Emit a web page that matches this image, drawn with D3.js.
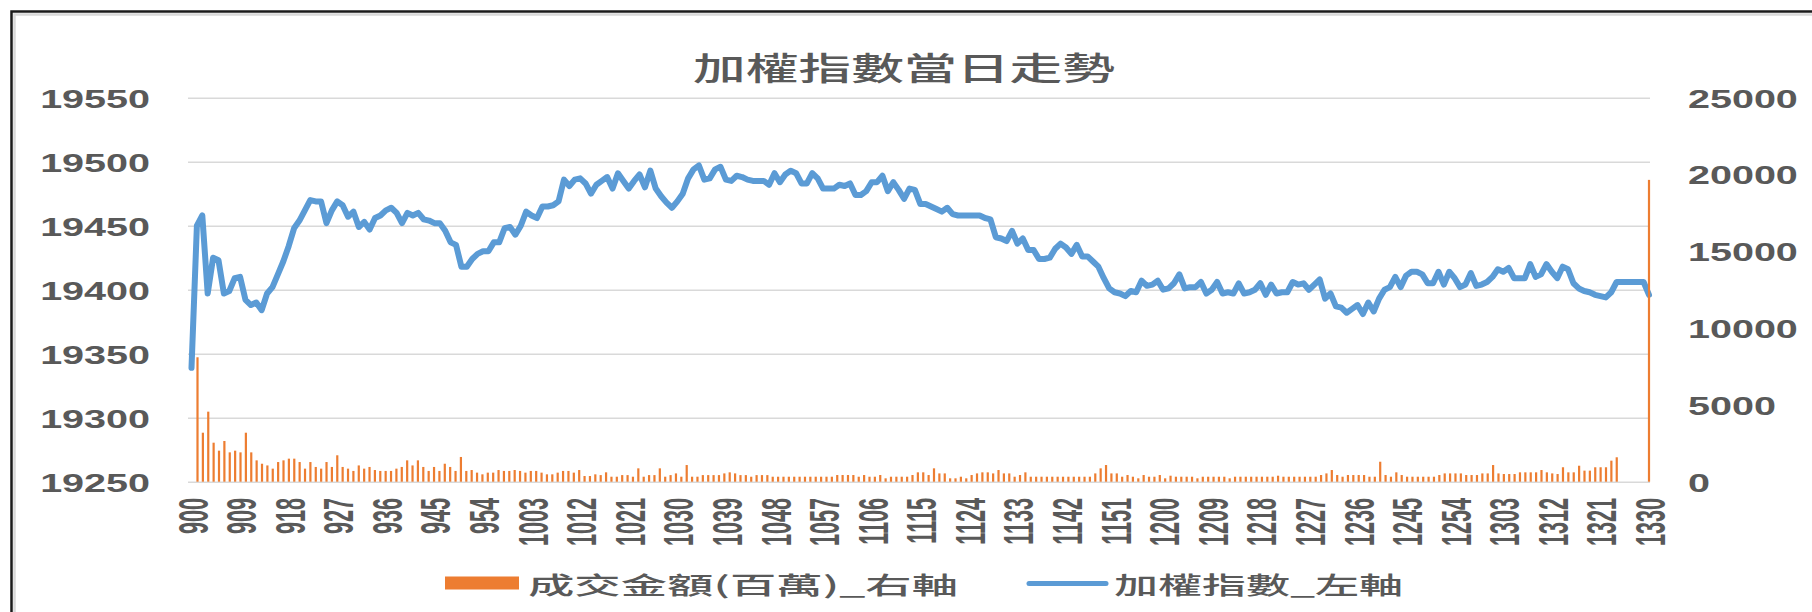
<!DOCTYPE html>
<html lang="zh-Hant">
<head>
<meta charset="UTF-8">
<title>加權指數當日走勢</title>
<style>
  body { margin: 0; background: #fff; }
  svg { display: block; }
  .tick text { fill: #595959; font-family: "Liberation Sans", Arial, sans-serif; font-weight: bold; }
  .cjk { font-family: "Noto Sans CJK TC", sans-serif; fill: #595959; }
</style>
</head>
<body>
<div id="chart"></div>
<script src="https://cdnjs.cloudflare.com/ajax/libs/d3/7.8.5/d3.min.js"></script>
<script>
const title = "加權指數當日走勢";
const volumeName = "成交金額(百萬)_右軸";
const indexName = "加權指數_左軸";

const tickLabels = ["900","909","918","927","936","945","954","1003","1012","1021","1030",
  "1039","1048","1057","1106","1115","1124","1133","1142","1151","1200","1209","1218",
  "1227","1236","1245","1254","1303","1312","1321","1330"];
const leftTicks = [19250, 19300, 19350, 19400, 19450, 19500, 19550];
const rightTicks = [0, 5000, 10000, 15000, 20000, 25000];

// 加權指數, one value per minute 9:00 .. 13:30
const indexValues = [
  19339,19450,19458,19397,19425,19423,19397,19399,19409,19410,
  19392,19388,19390,19384,19397,19402,19412,19422,19434,19448,
  19454,19462,19470,19469,19469,19452,19462,19469,19466,19457,
  19461,19449,19453,19447,19456,19458,19462,19464,19460,19452,
  19460,19458,19460,19455,19454,19452,19452,19446,19437,19435,
  19418,19418,19424,19428,19430,19430,19437,19437,19448,19449,
  19443,19450,19461,19458,19456,19465,19465,19466,19469,19486,
  19481,19486,19487,19483,19475,19482,19485,19488,19479,19491,
  19485,19479,19485,19490,19480,19493,19479,19473,19468,19464,
  19469,19475,19487,19494,19497,19486,19487,19494,19496,19486,
  19485,19489,19488,19486,19485,19485,19485,19482,19491,19484,
  19490,19493,19491,19483,19483,19491,19487,19479,19479,19479,
  19482,19481,19483,19474,19474,19477,19484,19484,19489,19477,
  19484,19478,19471,19479,19478,19467,19467,19465,19463,19461,
  19464,19459,19458,19458,19458,19458,19458,19456,19455,19441,
  19440,19438,19446,19436,19440,19431,19431,19424,19424,19425,
  19432,19436,19433,19428,19435,19426,19426,19422,19418,19409,
  19401,19398,19397,19395,19399,19398,19407,19403,19404,19407,
  19400,19401,19405,19412,19401,19402,19402,19406,19397,19400,
  19406,19397,19398,19397,19405,19397,19398,19400,19405,19396,
  19404,19397,19398,19398,19406,19404,19405,19400,19404,19408,
  19393,19397,19387,19386,19382,19385,19388,19381,19390,19383,
  19393,19400,19402,19410,19402,19411,19414,19414,19412,19405,
  19405,19414,19404,19414,19409,19402,19404,19413,19403,19404,
  19406,19410,19416,19414,19417,19409,19409,19409,19420,19410,
  19412,19420,19414,19409,19418,19416,19405,19401,19399,19398,
  19396,19395,19394,19398,19406,19406,19406,19406,19406,19406,
  19396
];

// 成交金額(百萬), one value per minute 9:00 .. 13:30
const volumeValues = [
  8100,3190,4560,2540,2020,2650,1910,2020,1910,3190,
  1910,1390,1170,1060,850,1280,1390,1500,1500,1280,
  850,1280,960,850,1280,960,1720,960,850,700,
  1060,850,960,760,700,700,700,850,960,1390,
  1060,1390,960,700,960,700,1170,960,700,1610,
  700,760,590,480,590,590,760,700,700,760,
  700,590,700,700,590,480,480,590,700,700,
  590,760,370,370,480,430,610,325,325,430,
  430,325,870,325,430,430,870,325,430,540,
  325,1085,325,325,430,430,430,430,540,610,
  540,430,430,325,430,430,430,325,325,325,
  325,325,325,325,325,325,325,325,325,435,
  435,435,435,325,435,325,325,435,220,325,
  325,325,325,435,610,610,435,870,540,540,
  220,220,325,220,435,540,610,610,540,760,
  540,540,325,435,610,325,325,325,325,325,
  325,325,325,325,325,325,325,540,870,1085,
  540,540,325,435,325,220,435,325,325,435,
  220,390,325,325,325,325,220,325,325,325,
  325,325,220,325,325,325,325,325,325,325,
  325,390,325,325,325,325,325,325,325,435,
  540,760,435,325,435,435,435,435,325,325,
  1300,435,325,610,435,325,325,325,325,325,
  325,435,540,540,540,540,435,435,435,540,
  540,1085,540,500,500,500,610,610,610,610,
  760,610,540,500,940,610,610,1040,720,720,
  940,940,940,1370,1590,0,0,0,0,0,
  19650
];

// minute categories 900 .. 1330
const minutes = [];
for (let h = 9; h <= 13; h++) {
  for (let m = 0; m < 60; m++) {
    if (h === 13 && m > 30) break;
    minutes.push(String(h * 100 + m));
  }
}
const data = minutes.map((t, i) => ({ t: t, index: indexValues[i], vol: volumeValues[i] }));

const W = 1812, H = 612;
const plotL = 188, plotR = 1650, plotT = 97.7, plotB = 481.7;
const sx = 1.52;      // horizontal stretch of the tick digits
const kx = 2.0;       // stretch of the rotated category labels

const svg = d3.select("#chart").append("svg")
  .attr("width", W).attr("height", H);

// chart frame
svg.append("rect")
  .attr("x", 11.5).attr("y", 11.5)
  .attr("width", W + 20).attr("height", H + 20)
  .attr("fill", "none").attr("stroke", "#1a1a1a").attr("stroke-width", 2.5);
svg.append("rect")
  .attr("x", 14.5).attr("y", 14.5)
  .attr("width", W + 20).attr("height", H + 20)
  .attr("fill", "none").attr("stroke", "#d9d9d9").attr("stroke-width", 2.5);

const yLeft = d3.scaleLinear().domain([19250, 19550]).range([plotB, plotT]);
const yRight = d3.scaleLinear().domain([0, 25000]).range([plotB, plotT]);
const xLine = d3.scalePoint().domain(minutes).range([191.5, 1649]);
const xBar = d3.scalePoint().domain(minutes).range([197.5, 1649]);

// left axis + gridlines
const gy = svg.append("g")
  .attr("transform", `translate(${plotL},0)`)
  .call(d3.axisLeft(yLeft).tickValues(leftTicks).tickFormat(d3.format("d"))
    .tickSize(-(plotR - plotL)).tickPadding(0));
gy.select(".domain").remove();
gy.selectAll(".tick line").attr("stroke", "#d9d9d9").attr("stroke-width", 1.6);
gy.selectAll(".tick text")
  .attr("x", -38 / sx).attr("dy", "0.36em")
  .attr("transform", `scale(${sx},1)`)
  .style("font-size", "26px");

// right axis
const gr = svg.append("g")
  .attr("transform", `translate(${plotR},0)`)
  .call(d3.axisRight(yRight).tickValues(rightTicks).tickFormat(d3.format("d"))
    .tickSize(0).tickPadding(0));
gr.select(".domain").remove();
gr.selectAll(".tick text")
  .attr("x", 38 / sx).attr("dy", "0.36em")
  .attr("transform", `scale(${sx},1)`)
  .style("text-anchor", "start")
  .style("font-size", "26px");

// category axis
const gx = svg.append("g")
  .attr("transform", `translate(0,498)`)
  .call(d3.axisBottom(xLine).tickValues(tickLabels).tickSize(0).tickPadding(0));
gx.select(".domain").remove();
gx.selectAll(".tick text")
  .attr("x", 0).attr("y", 0).attr("dy", "0.36em")
  .attr("transform", `rotate(-90) scale(1,${kx})`)
  .style("text-anchor", "end")
  .style("font-size", "21.6px");

// index line
const line = d3.line().x(d => xLine(d.t)).y(d => yLeft(d.index));
svg.append("path")
  .datum(data)
  .attr("fill", "none")
  .attr("stroke", "#5b9bd5")
  .attr("stroke-width", 6)
  .attr("stroke-linejoin", "round")
  .attr("stroke-linecap", "round")
  .attr("d", line);

// volume bars
const bw = 2.2;
svg.append("g").selectAll("rect")
  .data(data)
  .enter().append("rect")
  .attr("x", d => xBar(d.t) - bw / 2)
  .attr("y", d => yRight(d.vol))
  .attr("width", bw)
  .attr("height", d => yRight(0) - yRight(d.vol))
  .attr("fill", "#ed7d31");

// title
svg.append("text")
  .attr("class", "cjk")
  .attr("x", 693).attr("y", 66)
  .attr("dominant-baseline", "central")
  .attr("textLength", 422).attr("lengthAdjust", "spacingAndGlyphs")
  .style("font-size", "32px").style("font-weight", 500)
  .text(title);

// legend
svg.append("rect")
  .attr("x", 445).attr("y", 576.5).attr("width", 74).attr("height", 13)
  .attr("fill", "#ed7d31");
svg.append("text")
  .attr("class", "cjk")
  .attr("x", 528).attr("y", 583.5)
  .attr("dominant-baseline", "central")
  .attr("textLength", 430).attr("lengthAdjust", "spacingAndGlyphs")
  .style("font-size", "24px").style("font-weight", 500)
  .text(volumeName);
svg.append("line")
  .attr("x1", 1029).attr("x2", 1106).attr("y1", 583.5).attr("y2", 583.5)
  .attr("stroke", "#5b9bd5").attr("stroke-width", 5).attr("stroke-linecap", "round");
svg.append("text")
  .attr("class", "cjk")
  .attr("x", 1114).attr("y", 583.5)
  .attr("dominant-baseline", "central")
  .attr("textLength", 289).attr("lengthAdjust", "spacingAndGlyphs")
  .style("font-size", "24px").style("font-weight", 500)
  .text(indexName);
</script>
</body>
</html>
